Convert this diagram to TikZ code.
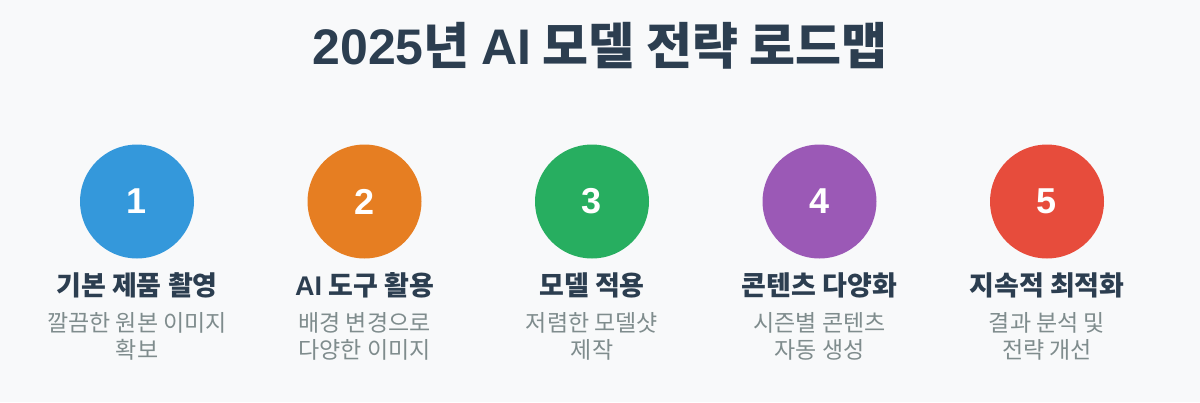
\documentclass[tikz,border=0pt]{standalone}
\usepackage{fontspec}
\setmainfont{Noto Sans CJK KR}
\newfontfamily\latin{Liberation Sans}
\usetikzlibrary{positioning}
\definecolor{pagebg}{HTML}{F8F9FA}
\definecolor{inkdark}{HTML}{2C3E50}
\definecolor{inkgray}{HTML}{7F8C8D}
\definecolor{cblue}{HTML}{3498DB}
\definecolor{corange}{HTML}{E67E22}
\definecolor{cgreen}{HTML}{27AE60}
\definecolor{cpurple}{HTML}{9B59B6}
\definecolor{cred}{HTML}{E74C3C}

\begin{document}
\begin{tikzpicture}[
      x=1pt,y=1pt,node distance=227.5pt,on grid,
      numdot/.style={circle,minimum size=114pt,inner sep=0pt,text=white,
          font=\latin\bfseries\fontsize{36}{40}\selectfont},
      headtext/.style={text=inkdark,font=\bfseries\fontsize{27}{31}\selectfont,inner sep=0pt},
      desctext/.style={text=inkgray,align=center,inner sep=0pt,
          font=\fontsize{23}{27.5}\selectfont}
      ]
      \fill[pagebg] (0,0) rectangle (1200,-402);
      \useasboundingbox (0,0) rectangle (1200,-402);

      \node[text=inkdark,font=\bfseries\fontsize{50}{54}\selectfont] (title) at (600,-46)
          {{\latin\bfseries 2025}년 {\latin\bfseries AI} 모델 전략 로드맵};

      \node[numdot,fill=cblue]             (s1) at (137,-201.5)  {1};
      \node[numdot,fill=corange]           (s2) [right=of s1]    {2};
      \node[numdot,fill=cgreen]            (s3) [right=of s2]    {3};
      \node[numdot,fill=cpurple]           (s4) [right=of s3]    {4};
      \node[numdot,fill=cred]              (s5) [right=of s4]    {5};

      \node[headtext]  (h1) [below=83.5pt of s1]  {기본 제품 촬영};
      \node[headtext]  (h2) [below=83.5pt of s2]  {{\latin\bfseries AI} 도구 활용};
      \node[headtext]  (h3) [below=83.5pt of s3]  {모델 적용};
      \node[headtext]  (h4) [below=83.5pt of s4]  {콘텐츠 다양화};
      \node[headtext]  (h5) [below=83.5pt of s5]  {지속적 최적화};

      \node[desctext]  (d1) [below=51.5pt of h1]  {깔끔한 원본 이미지\\확보};
      \node[desctext]  (d2) [below=51.5pt of h2]  {배경 변경으로\\다양한 이미지};
      \node[desctext]  (d3) [below=51.5pt of h3]  {저렴한 모델샷\\제작};
      \node[desctext]  (d4) [below=51.5pt of h4]  {시즌별 콘텐츠\\자동 생성};
      \node[desctext]  (d5) [below=51.5pt of h5]  {결과 분석 및\\전략 개선};
    \end{tikzpicture}
\end{document}
